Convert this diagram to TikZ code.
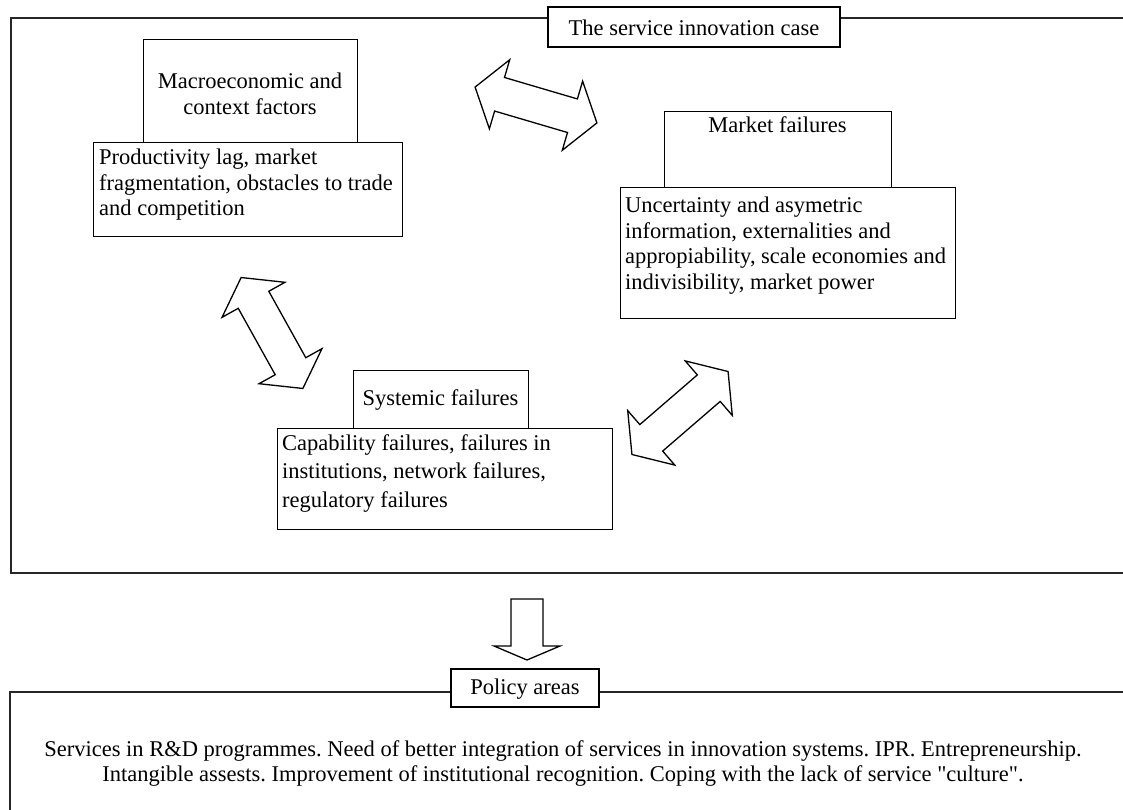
\documentclass[tikz,border=0pt]{standalone}
\usepackage{fontspec}
\setmainfont{Liberation Serif}
\tikzset{
  frameline/.style={line width=1.8pt, draw=black!85},
  boxshape/.style={draw, line width=1.3pt, fill=white, rectangle, inner sep=0pt, anchor=north west},
  labelbox/.style={draw, line width=1.3pt, fill=white, rectangle, inner sep=0pt},
  txt/.style={font=\fontsize{22.5}{25.4}\selectfont\frenchspacing, inner sep=0pt},
  barrow/.style={draw, line width=1.3pt, fill=white, line join=miter},
  dblarrow/.pic={\draw[barrow] (-63.5,0) -- (-38,-36) -- (-38,-17.5) -- (38,-17.5) -- (38,-36) -- (63.5,0) -- (38,36) -- (38,17.5) -- (-38,17.5) -- (-38,36) -- cycle;}
}
\begin{document}
\begin{tikzpicture}[x=1pt,y=-1pt]
\clip (0,0) rectangle (1123,810);
% outer frame of the case
\draw[frameline] (1140,18) -- (11,18) -- (11,573) -- (1140,573);
\node[labelbox, minimum width=292, minimum height=40] (caseL) at (694,27) {};
\node[txt] (caseT) at (694,28) {The service innovation case};

% macroeconomic
\node[boxshape, minimum width=214, minimum height=103] (macroH) at (143,39) {};
\node[txt, align=center, anchor=north] (macroHT) at (250,73) {Macroeconomic and\\context factors};
\node[boxshape, minimum width=309, minimum height=94] (macroB) at (93,142) {};
\node[txt, align=left, anchor=north west] (macroBT) at (99,149) {Productivity lag, market\\fragmentation, obstacles to trade\\and competition};

% market failures
\node[boxshape, minimum width=227, minimum height=76] (marketH) at (664,111) {};
\node[txt] (marketHT) at (777.5,125) {Market failures};
\node[boxshape, minimum width=335, minimum height=131] (marketB) at (620,187) {};
\node[txt, align=left, anchor=north west] (marketBT) at (625,197) {Uncertainty and asymetric\\information, externalities and\\appropiability, scale economies and\\indivisibility, market power};

% systemic failures
\node[boxshape, minimum width=175, minimum height=58] (sysH) at (353,370) {};
\node[txt] (sysHT) at (440.5,400) {Systemic failures};
\node[boxshape, minimum width=335, minimum height=101] (sysB) at (277,428) {};
\node[txt, align=left, anchor=north west, font=\fontsize{22.5}{28.5}\selectfont] (sysBT) at (282,434) {Capability failures, failures in\\institutions, network failures,\\regulatory failures};

% double arrows
\pic[rotate=-16.4] (arrA) at (536,105) {dblarrow};
\pic[rotate=-60.9] (arrB) at (272,333) {dblarrow};
\pic[rotate=40.8] (arrC) at (680,413) {dblarrow};

% down arrow
\draw[barrow] (511,599) -- (543,599) -- (543,646) -- (560,646) -- (527,660) -- (494,646) -- (511,646) -- cycle;

% policy frame
\draw[frameline] (1140,692) -- (10,692) -- (10,830);
\node[labelbox, minimum width=148, minimum height=38] (polL) at (525,688) {};
\node[txt] (polT) at (525,689) {Policy areas};
\node[txt, align=center, anchor=north] (polText) at (563,740) {Services in R\&D programmes. Need of better integration of services in innovation systems. IPR. Entrepreneurship.\\Intangible assests. Improvement of institutional recognition. Coping with the lack of service \textquotedbl culture\textquotedbl.};
\end{tikzpicture}
\end{document}
